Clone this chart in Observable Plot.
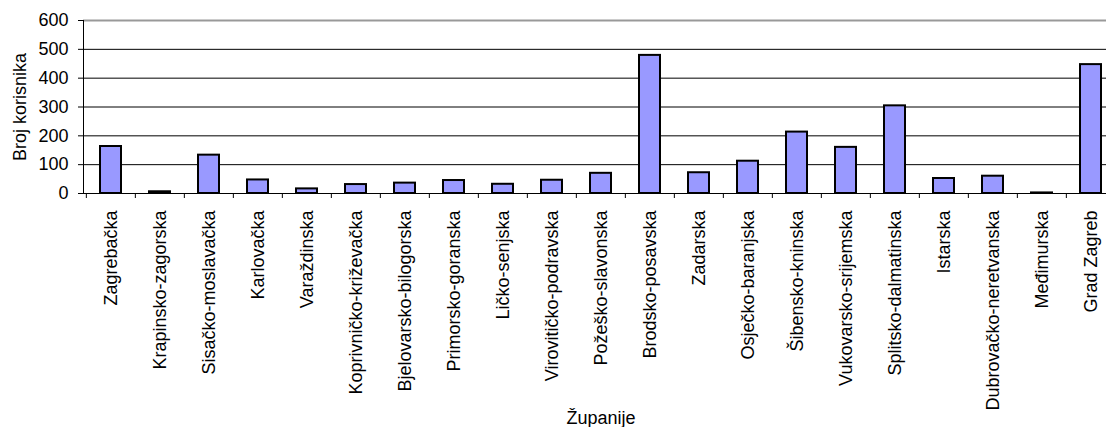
<!DOCTYPE html>
<html>
<head>
<meta charset="utf-8">
<script src="https://cdn.jsdelivr.net/npm/d3@7"></script>
<script src="https://cdn.jsdelivr.net/npm/@observablehq/plot@0.6"></script>
<style>
  html, body { margin: 0; padding: 0; background: #fff; overflow: hidden; }
  #chart svg { display: block; }
</style>
</head>
<body>
<div id="chart"></div>
<script>
const zupanije = [
  "Zagrebačka", "Krapinsko-zagorska", "Sisačko-moslavačka", "Karlovačka",
  "Varaždinska", "Koprivničko-križevačka", "Bjelovarsko-bilogorska",
  "Primorsko-goranska", "Ličko-senjska", "Virovitičko-podravska",
  "Požeško-slavonska", "Brodsko-posavska", "Zadarska", "Osječko-baranjska",
  "Šibensko-kninska", "Vukovarsko-srijemska", "Splitsko-dalmatinska",
  "Istarska", "Dubrovačko-neretvanska", "Međimurska", "Grad Zagreb"
];
const brojKorisnika = [163, 6, 133, 47, 16, 31, 36, 45, 32, 46, 70, 479, 72, 112, 213, 160, 304, 52, 60, 2, 447];
const yTicks = [0, 100, 200, 300, 400, 500, 600];
const gridTicks = [100, 200, 300, 400, 500];
const topTick = [600];

const data = zupanije.map((name, i) => ({name, value: brojKorisnika[i]}));

const W = 1106, H = 427;
const mL = 83, mR = -12, mT = 20, mB = 234;
const step = (W - mL - mR) / zupanije.length;

const chart = Plot.plot({
  width: W,
  height: H,
  marginLeft: mL,
  marginRight: mR,
  marginTop: mT,
  marginBottom: mB,
  style: {fontFamily: "'Liberation Sans', Arial, sans-serif", fontSize: "18px", color: "black", background: "white", overflow: "hidden"},
  x: {domain: zupanije, paddingInner: 0.574, paddingOuter: 0.287, label: null},
  y: {domain: [0, 600], label: null},
  marks: [
    Plot.ruleY(gridTicks, {stroke: "black", strokeWidth: 1}),
    Plot.ruleY(topTick, {stroke: "#999", strokeWidth: 2}),
    Plot.barY(data, {x: "name", y: "value", fill: "#9999FF", stroke: "black", strokeWidth: 2}),
    Plot.ruleY([0], {stroke: "black", strokeWidth: 1}),
    Plot.frame({anchor: "left", stroke: "black"}),
    Plot.axisY({ticks: yTicks, tickSize: 5, tickPadding: 10, label: "Broj korisnika", labelArrow: "none", labelAnchor: "center", labelOffset: 70, fontSize: 18}),
    Plot.axisX({tickSize: 5, tickFormat: () => "", dx: -step / 2, label: null}),
    Plot.axisX({tickSize: 0, tickPadding: 17, tickRotate: -90, fontSize: 18, label: "Županije", labelArrow: "none", labelAnchor: "center", labelOffset: 230})
  ]
});
document.getElementById("chart").appendChild(chart);
</script>
</body>
</html>
